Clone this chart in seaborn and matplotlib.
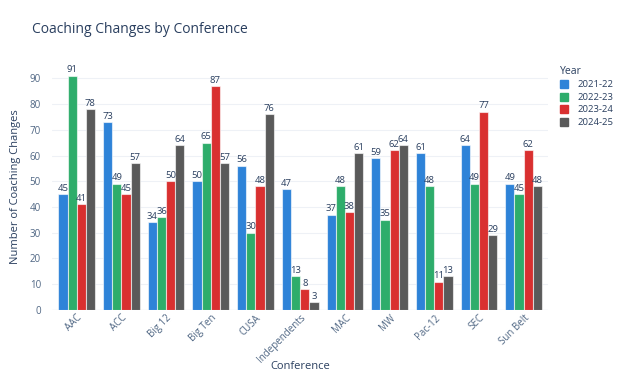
import matplotlib
matplotlib.use("Agg")
import matplotlib.pyplot as plt
import seaborn as sns
import pandas as pd
from matplotlib.patches import Patch

conferences = ["AAC", "ACC", "Big 12", "Big Ten", "CUSA", "Independents", "MAC", "MW", "Pac-12", "SEC", "Sun Belt"]
years = ["2021-22", "2022-23", "2023-24", "2024-25"]
v2122 = [45, 73, 34, 50, 56, 47, 37, 59, 61, 64, 49]
v2223 = [91, 49, 36, 65, 30, 13, 48, 35, 48, 49, 45]
v2324 = [41, 45, 50, 87, 48, 8, 38, 62, 11, 77, 62]
v2425 = [78, 57, 64, 57, 76, 3, 61, 64, 13, 29, 48]
colors = ["#2E83D8", "#2EAD6B", "#D93030", "#5A5A5A"]

rows = []
for y, vals in zip(years, [v2122, v2223, v2324, v2425]):
    for c, v in zip(conferences, vals):
        rows.append({"Conference": c, "Year": y, "Count": v})
df = pd.DataFrame(rows)

sns.set_theme(style="white")
plt.rcParams['font.family'] = ['Open Sans', 'DejaVu Sans']
fig = plt.figure(figsize=(6.28, 3.77), dpi=100)
ax = fig.add_axes([0.083, 0.178, 0.79, 0.655])
sns.barplot(data=df, x="Conference", y="Count", hue="Year", palette=colors,
            order=conferences, hue_order=years, ax=ax, width=0.82,
            edgecolor=(1, 1, 1, 0.6), linewidth=0.8, saturation=1, legend=False)
tc = "#2A3F5F"
for cont in ax.containers:
    ax.bar_label(cont, padding=1, fontsize=6.8, color=tc)
ax.set_ylim(0, 96)
ax.set_xlim(-0.55, 10.55)
ax.set_yticks(range(0, 91, 10))
ax.yaxis.grid(True, color="#EEF1F6", linewidth=0.8)
ax.set_axisbelow(True)
for s in ax.spines.values():
    s.set_visible(False)
ax.axhline(0, color="#EBF0F8", linewidth=1, zorder=0)
ax.tick_params(axis='y', labelsize=7, colors="#506784", length=0, pad=8)
ax.tick_params(axis='x', labelsize=7, colors="#506784", length=0, pad=2)
plt.setp(ax.get_xticklabels(), rotation=45, ha="right", rotation_mode="anchor")
ax.set_xlabel("Conference", fontsize=8, color=tc)
ax.xaxis.set_label_coords(0.5, -0.205)
ax.set_ylabel("Number of Coaching Changes", fontsize=8, color=tc, labelpad=6)
fig.text(0.051, 0.912, "Coaching Changes by Conference", fontsize=10, color=tc)
handles = [Patch(facecolor=c, edgecolor=c) for c in colors]
leg = fig.legend(handles, years, title="Year", loc="upper left", bbox_to_anchor=(0.885, 0.835),
                 frameon=False, fontsize=6.8, title_fontsize=7.5, handlelength=0.9, handleheight=0.9,
                 labelspacing=0.35, handletextpad=1.0, borderaxespad=0)
leg._legend_box.align = "left"
for t in leg.get_texts():
    t.set_color(tc)
leg.get_title().set_color(tc)
fig.savefig("out.png", dpi=100)
